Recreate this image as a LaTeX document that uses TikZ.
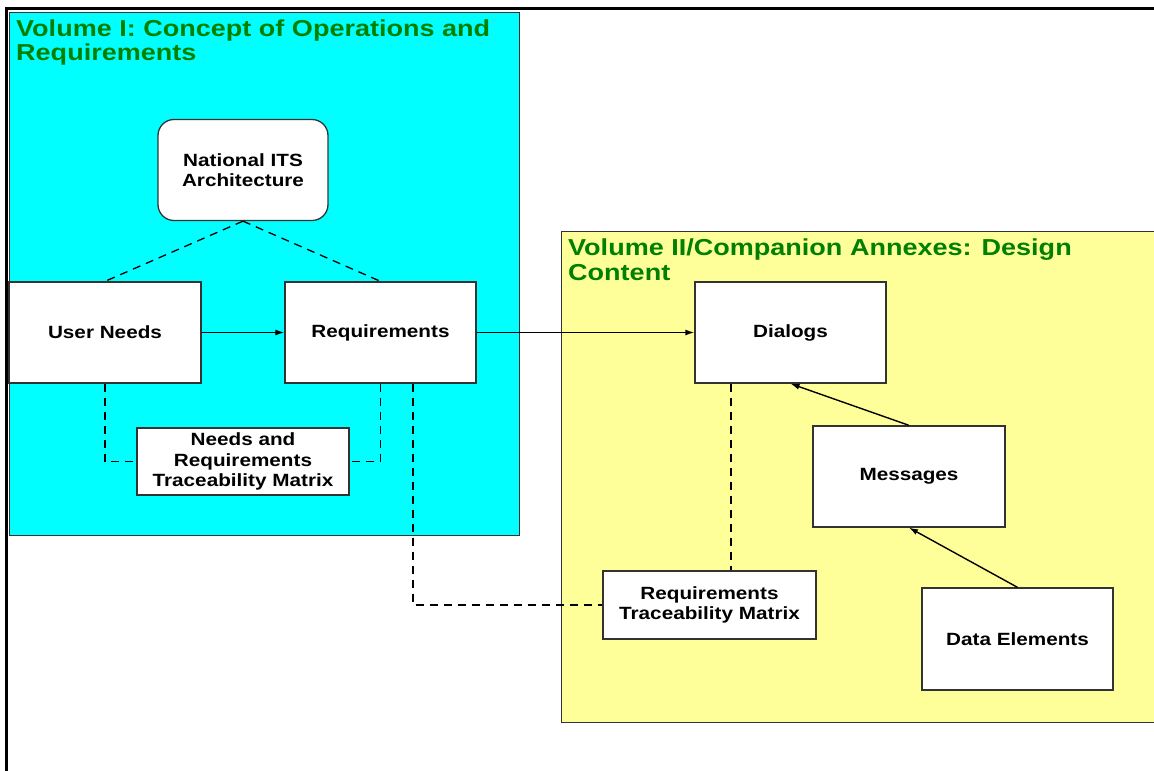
\documentclass[tikz,border=0pt]{standalone}
\usepackage{fontspec}
\setmainfont{Liberation Sans}[FakeStretch=1.17]
\usetikzlibrary{arrows.meta}
\definecolor{cyanbg}{RGB}{0,255,255}
\definecolor{yellowbg}{RGB}{255,255,153}
\definecolor{titlegreen}{RGB}{0,128,0}
\definecolor{edgegray}{RGB}{51,51,51}
\tikzset{
  box/.style={draw=edgegray, line width=1.3pt, fill=white, inner sep=2pt,
    font=\fontsize{17.7}{20.5}\selectfont\bfseries, align=center},
  titletext/.style={anchor=base west, inner sep=0pt, text=titlegreen,
    font=\fontsize{23.1}{24.5}\selectfont\bfseries},
  dashline/.style={line width=1.3pt, dash pattern=on 8pt off 6pt},
  arrowline/.style={line width=1.4pt, -{Latex[length=9pt,width=6pt]}},
}
\begin{document}
\begin{tikzpicture}[x=1pt,y=-1pt]
\useasboundingbox (0,0) rectangle (1154,771);
% outer frame
\draw[line width=3pt] (6,8.5) rectangle (1175,790);
% regions
\filldraw[fill=cyanbg, draw=edgegray, line width=0.8pt] (9,12) rectangle (519,535);
\filldraw[fill=yellowbg, draw=edgegray, line width=1pt] (561,231) rectangle (1170,722);
% titles
\node[titletext] (t1a) at (16,36) {Volume I: Concept of Operations and};
\node[titletext] (t1b) at (16,60) {Requirements};
\node[titletext] (t2a) at (568,255) {Volume II/Companion Annexes: Design};
\node[titletext] (t2b) at (568,280) {Content};
% boxes
\node[box, rounded corners=16pt, minimum width=170pt, minimum height=101pt] (nat) at (243,170) {National ITS\\Architecture};
\node[box, minimum width=192pt, minimum height=101pt] (un) at (105,332.5) {User Needs};
\node[box, minimum width=191pt, minimum height=101pt] (req) at (380.5,332.5) {Requirements};
\node[box, minimum width=212pt, minimum height=67pt] (nrtm) at (243,461.5) {Needs and\\Requirements\\Traceability Matrix};
\node[box, minimum width=191pt, minimum height=101pt] (dia) at (790.5,332.5) {Dialogs};
\node[box, minimum width=192pt, minimum height=101pt] (msg) at (909,476.5) {Messages};
\node[box, minimum width=191pt, minimum height=102pt] (de) at (1017.5,639) {Data Elements};
\node[box, minimum width=213pt, minimum height=68pt] (rtm) at (709.5,605) {Requirements\\Traceability Matrix};
% helper coordinates
\coordinate (rq2) at ([xshift=32.5pt]req.south);
\coordinate (dx) at (731,0);
% dashed connectors
\draw[dashline] (nat.south) -- (un.north);
\draw[dashline] (nat.south) -- (req.north);
\draw[dashline] (un.south) |- (nrtm.west);
\draw[dashline] (req.south) |- (nrtm.east);
\draw[dashline] (rq2) |- (rtm.west);
\draw[dashline] (dia.south -| dx) -- (rtm.north -| dx);
% arrows
\draw[arrowline] (un.east) -- (req.west);
\draw[arrowline] (req.east) -- (dia.west);
\draw[arrowline] (msg.north) -- (dia.south);
\draw[arrowline] (de.north) -- (msg.south);
\end{tikzpicture}
\end{document}
